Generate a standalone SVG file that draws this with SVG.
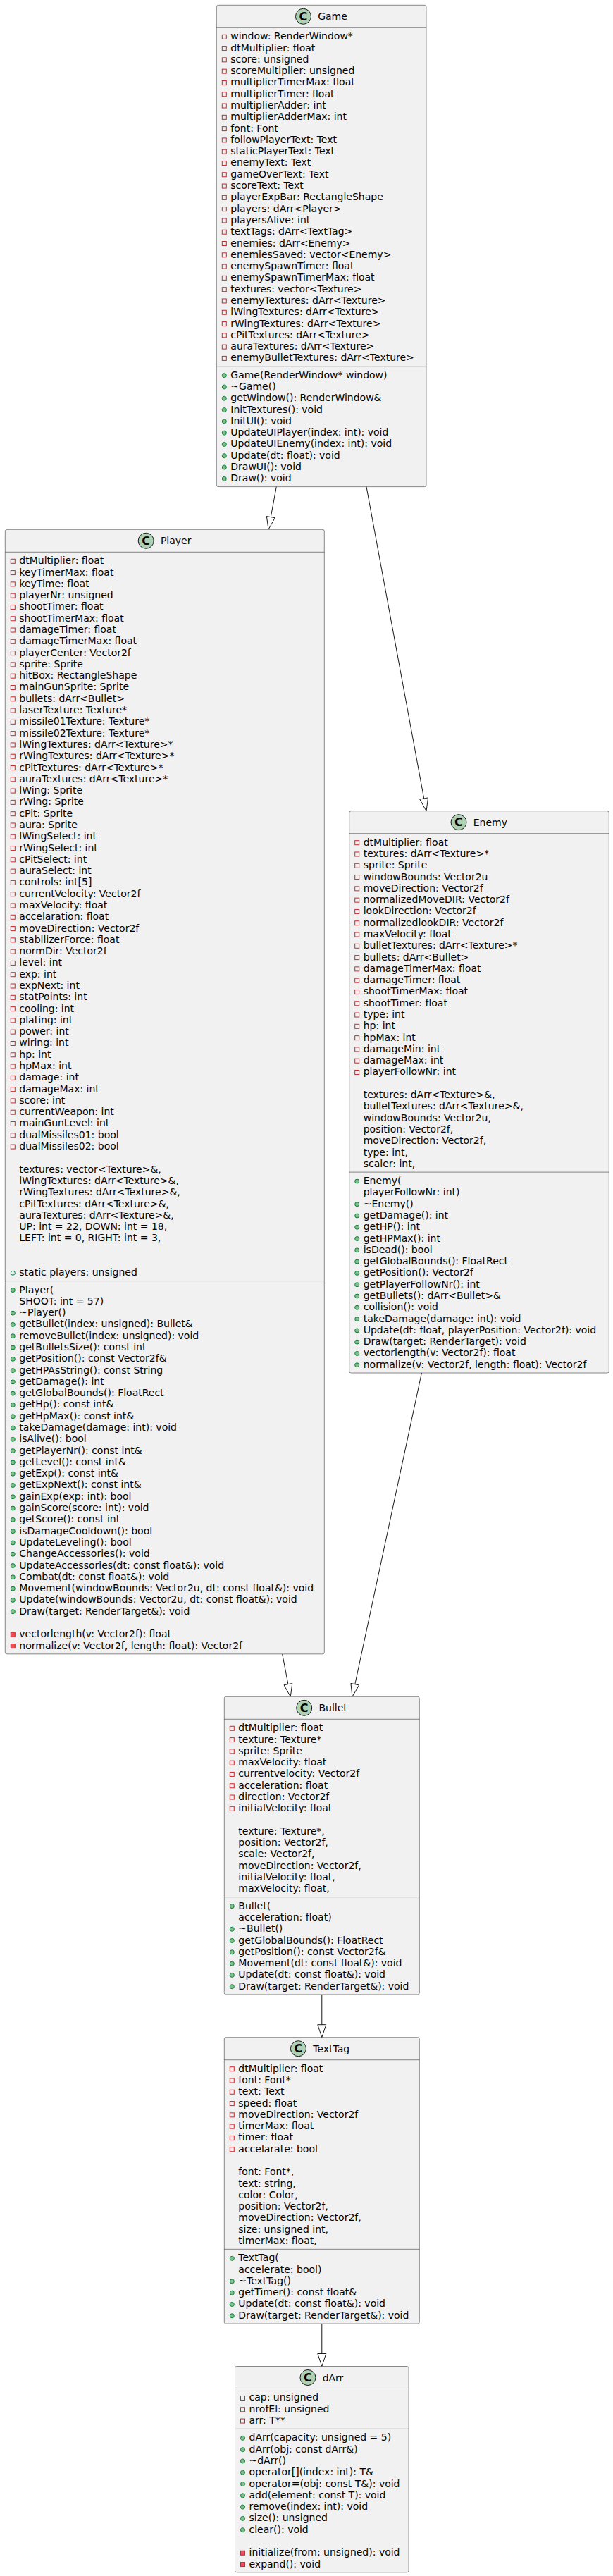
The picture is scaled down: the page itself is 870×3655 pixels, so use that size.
<svg xmlns="http://www.w3.org/2000/svg" xmlns:xlink="http://www.w3.org/1999/xlink" width="870" height="3655" viewBox="0 0 870 3655">
<style>
.box{fill:#F1F1F1;stroke:#181818;stroke-width:0.5}
.sep{stroke:#181818;stroke-width:0.5}
.spot{fill:#ADD1B2;stroke:#181818;stroke-width:1}
.spotc{font-family:"DejaVu Sans",sans-serif;font-size:16px;font-weight:bold;fill:#000000;text-anchor:middle}
.title{font-family:"DejaVu Sans",sans-serif;font-size:14px;fill:#000000}
.m{font-family:"DejaVu Sans",sans-serif;font-size:14px;fill:#000000}
.edge{stroke:#181818;stroke-width:1;fill:none}
.head{fill:none;stroke:#181818;stroke-width:1}
</style>
<defs>
<rect id="fpriv" x="8" y="-3" width="6" height="6" fill="none" stroke="#C82930" stroke-width="1"/>
<rect id="mpriv" x="8" y="-3" width="6" height="6" fill="#F24D5C" stroke="#C82930" stroke-width="1"/>
<circle id="mpub" cx="11" cy="0" r="3" fill="#84BE84" stroke="#038048" stroke-width="1"/>
<circle id="fpub" cx="11" cy="0" r="3" fill="none" stroke="#038048" stroke-width="1"/>
</defs>
<rect width="870" height="3655" fill="#FFFFFF"/>

<g id="connectors">
<line class="edge" x1="392.3" y1="690.6" x2="384.3" y2="733.6"/>
<polygon class="head" points="381,751.3 390.2,734.7 378.4,732.5"/>
<line class="edge" x1="520" y1="690.6" x2="601.7" y2="1133"/>
<polygon class="head" points="605,1150.7 607.6,1131.9 595.8,1134.1"/>
<line class="edge" x1="400.7" y1="2346.85" x2="408.9" y2="2389.6"/>
<polygon class="head" points="412.3,2407.3 414.8,2388.5 403,2390.75"/>
<line class="edge" x1="598.4" y1="1948.04" x2="503.8" y2="2389.7"/>
<polygon class="head" points="500,2407.3 509.6,2391 497.9,2388.4"/>
<line class="edge" x1="456.8" y1="2829.97" x2="456.8" y2="2872.7"/>
<polygon class="head" points="456.8,2890.7 450.8,2872.7 462.8,2872.7"/>
<line class="edge" x1="456.8" y1="3297.08" x2="456.8" y2="3339.5"/>
<polygon class="head" points="456.8,3357.5 450.8,3339.5 462.8,3339.5"/>
</g>

<g id="Game" transform="translate(307.3,7.3)">
<rect class="box" width="297.7" height="683.31" rx="2.5"/>
<circle class="spot" cx="123.2" cy="16" r="11"/>
<text class="spotc" x="123.2" y="21.8">C</text>
<text class="title" x="143.9" y="21">Game</text>
<line class="sep" x1="0" y1="32" x2="297.7" y2="32"/>
<line class="sep" x1="0" y1="512.41" x2="297.7" y2="512.41"/>
<g transform="translate(0,32)">
<use href="#fpriv" y="12.99"/><use href="#fpriv" y="29.28"/><use href="#fpriv" y="45.57"/><use href="#fpriv" y="61.86"/><use href="#fpriv" y="78.15"/><use href="#fpriv" y="94.44"/><use href="#fpriv" y="110.73"/><use href="#fpriv" y="127.02"/><use href="#fpriv" y="143.31"/><use href="#fpriv" y="159.60"/><use href="#fpriv" y="175.89"/><use href="#fpriv" y="192.18"/><use href="#fpriv" y="208.47"/><use href="#fpriv" y="224.76"/><use href="#fpriv" y="241.05"/><use href="#fpriv" y="257.34"/><use href="#fpriv" y="273.63"/><use href="#fpriv" y="289.92"/><use href="#fpriv" y="306.21"/><use href="#fpriv" y="322.50"/><use href="#fpriv" y="338.79"/><use href="#fpriv" y="355.08"/><use href="#fpriv" y="371.37"/><use href="#fpriv" y="387.66"/><use href="#fpriv" y="403.95"/><use href="#fpriv" y="420.24"/><use href="#fpriv" y="436.53"/><use href="#fpriv" y="452.82"/><use href="#fpriv" y="469.11"/>
<text class="m"><tspan x="20" y="16.99">window: RenderWindow*</tspan><tspan x="20" dy="16.29">dtMultiplier: float</tspan><tspan x="20" dy="16.29">score: unsigned</tspan><tspan x="20" dy="16.29">scoreMultiplier: unsigned</tspan><tspan x="20" dy="16.29">multiplierTimerMax: float</tspan><tspan x="20" dy="16.29">multiplierTimer: float</tspan><tspan x="20" dy="16.29">multiplierAdder: int</tspan><tspan x="20" dy="16.29">multiplierAdderMax: int</tspan><tspan x="20" dy="16.29">font: Font</tspan><tspan x="20" dy="16.29">followPlayerText: Text</tspan><tspan x="20" dy="16.29">staticPlayerText: Text</tspan><tspan x="20" dy="16.29">enemyText: Text</tspan><tspan x="20" dy="16.29">gameOverText: Text</tspan><tspan x="20" dy="16.29">scoreText: Text</tspan><tspan x="20" dy="16.29">playerExpBar: RectangleShape</tspan><tspan x="20" dy="16.29">players: dArr&lt;Player&gt;</tspan><tspan x="20" dy="16.29">playersAlive: int</tspan><tspan x="20" dy="16.29">textTags: dArr&lt;TextTag&gt;</tspan><tspan x="20" dy="16.29">enemies: dArr&lt;Enemy&gt;</tspan><tspan x="20" dy="16.29">enemiesSaved: vector&lt;Enemy&gt;</tspan><tspan x="20" dy="16.29">enemySpawnTimer: float</tspan><tspan x="20" dy="16.29">enemySpawnTimerMax: float</tspan><tspan x="20" dy="16.29">textures: vector&lt;Texture&gt;</tspan><tspan x="20" dy="16.29">enemyTextures: dArr&lt;Texture&gt;</tspan><tspan x="20" dy="16.29">lWingTextures: dArr&lt;Texture&gt;</tspan><tspan x="20" dy="16.29">rWingTextures: dArr&lt;Texture&gt;</tspan><tspan x="20" dy="16.29">cPitTextures: dArr&lt;Texture&gt;</tspan><tspan x="20" dy="16.29">auraTextures: dArr&lt;Texture&gt;</tspan><tspan x="20" dy="16.29">enemyBulletTextures: dArr&lt;Texture&gt;</tspan></text>
</g>
<g transform="translate(0,512.41)">
<use href="#mpub" y="12.99"/><use href="#mpub" y="29.28"/><use href="#mpub" y="45.57"/><use href="#mpub" y="61.86"/><use href="#mpub" y="78.15"/><use href="#mpub" y="94.44"/><use href="#mpub" y="110.73"/><use href="#mpub" y="127.02"/><use href="#mpub" y="143.31"/><use href="#mpub" y="159.60"/>
<text class="m"><tspan x="20" y="16.99">Game(RenderWindow* window)</tspan><tspan x="20" dy="16.29">~Game()</tspan><tspan x="20" dy="16.29">getWindow(): RenderWindow&amp;</tspan><tspan x="20" dy="16.29">InitTextures(): void</tspan><tspan x="20" dy="16.29">InitUI(): void</tspan><tspan x="20" dy="16.29">UpdateUIPlayer(index: int): void</tspan><tspan x="20" dy="16.29">UpdateUIEnemy(index: int): void</tspan><tspan x="20" dy="16.29">Update(dt: float): void</tspan><tspan x="20" dy="16.29">DrawUI(): void</tspan><tspan x="20" dy="16.29">Draw(): void</tspan></text>
</g>
</g>

<g id="Player" transform="translate(7.3,751.3)">
<rect class="box" width="453" height="1595.55" rx="2.5"/>
<circle class="spot" cx="199.9" cy="16" r="11"/>
<text class="spotc" x="199.9" y="21.8">C</text>
<text class="title" x="220.6" y="21">Player</text>
<line class="sep" x1="0" y1="32" x2="453" y2="32"/>
<line class="sep" x1="0" y1="1066.27" x2="453" y2="1066.27"/>
<g transform="translate(0,32)">
<use href="#fpriv" y="12.99"/><use href="#fpriv" y="29.28"/><use href="#fpriv" y="45.57"/><use href="#fpriv" y="61.86"/><use href="#fpriv" y="78.15"/><use href="#fpriv" y="94.44"/><use href="#fpriv" y="110.73"/><use href="#fpriv" y="127.02"/><use href="#fpriv" y="143.31"/><use href="#fpriv" y="159.60"/><use href="#fpriv" y="175.89"/><use href="#fpriv" y="192.18"/><use href="#fpriv" y="208.47"/><use href="#fpriv" y="224.76"/><use href="#fpriv" y="241.05"/><use href="#fpriv" y="257.34"/><use href="#fpriv" y="273.63"/><use href="#fpriv" y="289.92"/><use href="#fpriv" y="306.21"/><use href="#fpriv" y="322.50"/><use href="#fpriv" y="338.79"/><use href="#fpriv" y="355.08"/><use href="#fpriv" y="371.37"/><use href="#fpriv" y="387.66"/><use href="#fpriv" y="403.95"/><use href="#fpriv" y="420.24"/><use href="#fpriv" y="436.53"/><use href="#fpriv" y="452.82"/><use href="#fpriv" y="469.11"/><use href="#fpriv" y="485.40"/><use href="#fpriv" y="501.69"/><use href="#fpriv" y="517.98"/><use href="#fpriv" y="534.27"/><use href="#fpriv" y="550.56"/><use href="#fpriv" y="566.85"/><use href="#fpriv" y="583.14"/><use href="#fpriv" y="599.43"/><use href="#fpriv" y="615.72"/><use href="#fpriv" y="632.01"/><use href="#fpriv" y="648.30"/><use href="#fpriv" y="664.59"/><use href="#fpriv" y="680.88"/><use href="#fpriv" y="697.17"/><use href="#fpriv" y="713.46"/><use href="#fpriv" y="729.75"/><use href="#fpriv" y="746.04"/><use href="#fpriv" y="762.33"/><use href="#fpriv" y="778.62"/><use href="#fpriv" y="794.91"/><use href="#fpriv" y="811.20"/><use href="#fpriv" y="827.49"/><use href="#fpriv" y="843.78"/>
<use href="#fpub" y="1022.97"/>
<text class="m"><tspan x="20" y="16.99">dtMultiplier: float</tspan><tspan x="20" dy="16.29">keyTimerMax: float</tspan><tspan x="20" dy="16.29">keyTime: float</tspan><tspan x="20" dy="16.29">playerNr: unsigned</tspan><tspan x="20" dy="16.29">shootTimer: float</tspan><tspan x="20" dy="16.29">shootTimerMax: float</tspan><tspan x="20" dy="16.29">damageTimer: float</tspan><tspan x="20" dy="16.29">damageTimerMax: float</tspan><tspan x="20" dy="16.29">playerCenter: Vector2f</tspan><tspan x="20" dy="16.29">sprite: Sprite</tspan><tspan x="20" dy="16.29">hitBox: RectangleShape</tspan><tspan x="20" dy="16.29">mainGunSprite: Sprite</tspan><tspan x="20" dy="16.29">bullets: dArr&lt;Bullet&gt;</tspan><tspan x="20" dy="16.29">laserTexture: Texture*</tspan><tspan x="20" dy="16.29">missile01Texture: Texture*</tspan><tspan x="20" dy="16.29">missile02Texture: Texture*</tspan><tspan x="20" dy="16.29">lWingTextures: dArr&lt;Texture&gt;*</tspan><tspan x="20" dy="16.29">rWingTextures: dArr&lt;Texture&gt;*</tspan><tspan x="20" dy="16.29">cPitTextures: dArr&lt;Texture&gt;*</tspan><tspan x="20" dy="16.29">auraTextures: dArr&lt;Texture&gt;*</tspan><tspan x="20" dy="16.29">lWing: Sprite</tspan><tspan x="20" dy="16.29">rWing: Sprite</tspan><tspan x="20" dy="16.29">cPit: Sprite</tspan><tspan x="20" dy="16.29">aura: Sprite</tspan><tspan x="20" dy="16.29">lWingSelect: int</tspan><tspan x="20" dy="16.29">rWingSelect: int</tspan><tspan x="20" dy="16.29">cPitSelect: int</tspan><tspan x="20" dy="16.29">auraSelect: int</tspan><tspan x="20" dy="16.29">controls: int[5]</tspan><tspan x="20" dy="16.29">currentVelocity: Vector2f</tspan><tspan x="20" dy="16.29">maxVelocity: float</tspan><tspan x="20" dy="16.29">accelaration: float</tspan><tspan x="20" dy="16.29">moveDirection: Vector2f</tspan><tspan x="20" dy="16.29">stabilizerForce: float</tspan><tspan x="20" dy="16.29">normDir: Vector2f</tspan><tspan x="20" dy="16.29">level: int</tspan><tspan x="20" dy="16.29">exp: int</tspan><tspan x="20" dy="16.29">expNext: int</tspan><tspan x="20" dy="16.29">statPoints: int</tspan><tspan x="20" dy="16.29">cooling: int</tspan><tspan x="20" dy="16.29">plating: int</tspan><tspan x="20" dy="16.29">power: int</tspan><tspan x="20" dy="16.29">wiring: int</tspan><tspan x="20" dy="16.29">hp: int</tspan><tspan x="20" dy="16.29">hpMax: int</tspan><tspan x="20" dy="16.29">damage: int</tspan><tspan x="20" dy="16.29">damageMax: int</tspan><tspan x="20" dy="16.29">score: int</tspan><tspan x="20" dy="16.29">currentWeapon: int</tspan><tspan x="20" dy="16.29">mainGunLevel: int</tspan><tspan x="20" dy="16.29">dualMissiles01: bool</tspan><tspan x="20" dy="16.29">dualMissiles02: bool</tspan><tspan x="20" dy="32.58">textures: vector&lt;Texture&gt;&amp;,</tspan><tspan x="20" dy="16.29">lWingTextures: dArr&lt;Texture&gt;&amp;,</tspan><tspan x="20" dy="16.29">rWingTextures: dArr&lt;Texture&gt;&amp;,</tspan><tspan x="20" dy="16.29">cPitTextures: dArr&lt;Texture&gt;&amp;,</tspan><tspan x="20" dy="16.29">auraTextures: dArr&lt;Texture&gt;&amp;,</tspan><tspan x="20" dy="16.29">UP: int = 22, DOWN: int = 18,</tspan><tspan x="20" dy="16.29">LEFT: int = 0, RIGHT: int = 3,</tspan><tspan x="20" dy="48.87">static players: unsigned</tspan></text>
</g>
<g transform="translate(0,1066.27)">
<use href="#mpub" y="12.99"/><use href="#mpub" y="45.57"/><use href="#mpub" y="61.86"/><use href="#mpub" y="78.15"/><use href="#mpub" y="94.44"/><use href="#mpub" y="110.73"/><use href="#mpub" y="127.02"/><use href="#mpub" y="143.31"/><use href="#mpub" y="159.60"/><use href="#mpub" y="175.89"/><use href="#mpub" y="192.18"/><use href="#mpub" y="208.47"/><use href="#mpub" y="224.76"/><use href="#mpub" y="241.05"/><use href="#mpub" y="257.34"/><use href="#mpub" y="273.63"/><use href="#mpub" y="289.92"/><use href="#mpub" y="306.21"/><use href="#mpub" y="322.50"/><use href="#mpub" y="338.79"/><use href="#mpub" y="355.08"/><use href="#mpub" y="371.37"/><use href="#mpub" y="387.66"/><use href="#mpub" y="403.95"/><use href="#mpub" y="420.24"/><use href="#mpub" y="436.53"/><use href="#mpub" y="452.82"/><use href="#mpub" y="469.11"/>
<use href="#mpriv" y="501.69"/><use href="#mpriv" y="517.98"/>
<text class="m"><tspan x="20" y="16.99">Player(</tspan><tspan x="20" dy="16.29">SHOOT: int = 57)</tspan><tspan x="20" dy="16.29">~Player()</tspan><tspan x="20" dy="16.29">getBullet(index: unsigned): Bullet&amp;</tspan><tspan x="20" dy="16.29">removeBullet(index: unsigned): void</tspan><tspan x="20" dy="16.29">getBulletsSize(): const int</tspan><tspan x="20" dy="16.29">getPosition(): const Vector2f&amp;</tspan><tspan x="20" dy="16.29">getHPAsString(): const String</tspan><tspan x="20" dy="16.29">getDamage(): int</tspan><tspan x="20" dy="16.29">getGlobalBounds(): FloatRect</tspan><tspan x="20" dy="16.29">getHp(): const int&amp;</tspan><tspan x="20" dy="16.29">getHpMax(): const int&amp;</tspan><tspan x="20" dy="16.29">takeDamage(damage: int): void</tspan><tspan x="20" dy="16.29">isAlive(): bool</tspan><tspan x="20" dy="16.29">getPlayerNr(): const int&amp;</tspan><tspan x="20" dy="16.29">getLevel(): const int&amp;</tspan><tspan x="20" dy="16.29">getExp(): const int&amp;</tspan><tspan x="20" dy="16.29">getExpNext(): const int&amp;</tspan><tspan x="20" dy="16.29">gainExp(exp: int): bool</tspan><tspan x="20" dy="16.29">gainScore(score: int): void</tspan><tspan x="20" dy="16.29">getScore(): const int</tspan><tspan x="20" dy="16.29">isDamageCooldown(): bool</tspan><tspan x="20" dy="16.29">UpdateLeveling(): bool</tspan><tspan x="20" dy="16.29">ChangeAccessories(): void</tspan><tspan x="20" dy="16.29">UpdateAccessories(dt: const float&amp;): void</tspan><tspan x="20" dy="16.29">Combat(dt: const float&amp;): void</tspan><tspan x="20" dy="16.29">Movement(windowBounds: Vector2u, dt: const float&amp;): void</tspan><tspan x="20" dy="16.29">Update(windowBounds: Vector2u, dt: const float&amp;): void</tspan><tspan x="20" dy="16.29">Draw(target: RenderTarget&amp;): void</tspan><tspan x="20" dy="32.58">vectorlength(v: Vector2f): float</tspan><tspan x="20" dy="16.29">normalize(v: Vector2f, length: float): Vector2f</tspan></text>
</g>
</g>

<g id="Enemy" transform="translate(495.7,1150.7)">
<rect class="box" width="368.6" height="797.34" rx="2.5"/>
<circle class="spot" cx="155.3" cy="16" r="11"/>
<text class="spotc" x="155.3" y="21.8">C</text>
<text class="title" x="176" y="21">Enemy</text>
<line class="sep" x1="0" y1="32" x2="368.6" y2="32"/>
<line class="sep" x1="0" y1="512.41" x2="368.6" y2="512.41"/>
<g transform="translate(0,32)">
<use href="#fpriv" y="12.99"/><use href="#fpriv" y="29.28"/><use href="#fpriv" y="45.57"/><use href="#fpriv" y="61.86"/><use href="#fpriv" y="78.15"/><use href="#fpriv" y="94.44"/><use href="#fpriv" y="110.73"/><use href="#fpriv" y="127.02"/><use href="#fpriv" y="143.31"/><use href="#fpriv" y="159.60"/><use href="#fpriv" y="175.89"/><use href="#fpriv" y="192.18"/><use href="#fpriv" y="208.47"/><use href="#fpriv" y="224.76"/><use href="#fpriv" y="241.05"/><use href="#fpriv" y="257.34"/><use href="#fpriv" y="273.63"/><use href="#fpriv" y="289.92"/><use href="#fpriv" y="306.21"/><use href="#fpriv" y="322.50"/><use href="#fpriv" y="338.79"/>
<text class="m"><tspan x="20" y="16.99">dtMultiplier: float</tspan><tspan x="20" dy="16.29">textures: dArr&lt;Texture&gt;*</tspan><tspan x="20" dy="16.29">sprite: Sprite</tspan><tspan x="20" dy="16.29">windowBounds: Vector2u</tspan><tspan x="20" dy="16.29">moveDirection: Vector2f</tspan><tspan x="20" dy="16.29">normalizedMoveDIR: Vector2f</tspan><tspan x="20" dy="16.29">lookDirection: Vector2f</tspan><tspan x="20" dy="16.29">normalizedlookDIR: Vector2f</tspan><tspan x="20" dy="16.29">maxVelocity: float</tspan><tspan x="20" dy="16.29">bulletTextures: dArr&lt;Texture&gt;*</tspan><tspan x="20" dy="16.29">bullets: dArr&lt;Bullet&gt;</tspan><tspan x="20" dy="16.29">damageTimerMax: float</tspan><tspan x="20" dy="16.29">damageTimer: float</tspan><tspan x="20" dy="16.29">shootTimerMax: float</tspan><tspan x="20" dy="16.29">shootTimer: float</tspan><tspan x="20" dy="16.29">type: int</tspan><tspan x="20" dy="16.29">hp: int</tspan><tspan x="20" dy="16.29">hpMax: int</tspan><tspan x="20" dy="16.29">damageMin: int</tspan><tspan x="20" dy="16.29">damageMax: int</tspan><tspan x="20" dy="16.29">playerFollowNr: int</tspan><tspan x="20" dy="32.58">textures: dArr&lt;Texture&gt;&amp;,</tspan><tspan x="20" dy="16.29">bulletTextures: dArr&lt;Texture&gt;&amp;,</tspan><tspan x="20" dy="16.29">windowBounds: Vector2u,</tspan><tspan x="20" dy="16.29">position: Vector2f,</tspan><tspan x="20" dy="16.29">moveDirection: Vector2f,</tspan><tspan x="20" dy="16.29">type: int,</tspan><tspan x="20" dy="16.29">scaler: int,</tspan></text>
</g>
<g transform="translate(0,512.41)">
<use href="#mpub" y="12.99"/><use href="#mpub" y="45.57"/><use href="#mpub" y="61.86"/><use href="#mpub" y="78.15"/><use href="#mpub" y="94.44"/><use href="#mpub" y="110.73"/><use href="#mpub" y="127.02"/><use href="#mpub" y="143.31"/><use href="#mpub" y="159.60"/><use href="#mpub" y="175.89"/><use href="#mpub" y="192.18"/><use href="#mpub" y="208.47"/><use href="#mpub" y="224.76"/><use href="#mpub" y="241.05"/><use href="#mpub" y="257.34"/><use href="#mpub" y="273.63"/>
<text class="m"><tspan x="20" y="16.99">Enemy(</tspan><tspan x="20" dy="16.29">playerFollowNr: int)</tspan><tspan x="20" dy="16.29">~Enemy()</tspan><tspan x="20" dy="16.29">getDamage(): int</tspan><tspan x="20" dy="16.29">getHP(): int</tspan><tspan x="20" dy="16.29">getHPMax(): int</tspan><tspan x="20" dy="16.29">isDead(): bool</tspan><tspan x="20" dy="16.29">getGlobalBounds(): FloatRect</tspan><tspan x="20" dy="16.29">getPosition(): Vector2f</tspan><tspan x="20" dy="16.29">getPlayerFollowNr(): int</tspan><tspan x="20" dy="16.29">getBullets(): dArr&lt;Bullet&gt;&amp;</tspan><tspan x="20" dy="16.29">collision(): void</tspan><tspan x="20" dy="16.29">takeDamage(damage: int): void</tspan><tspan x="20" dy="16.29">Update(dt: float, playerPosition: Vector2f): void</tspan><tspan x="20" dy="16.29">Draw(target: RenderTarget): void</tspan><tspan x="20" dy="16.29">vectorlength(v: Vector2f): float</tspan><tspan x="20" dy="16.29">normalize(v: Vector2f, length: float): Vector2f</tspan></text>
</g>
</g>

<g id="Bullet" transform="translate(318.3,2407.3)">
<rect class="box" width="277" height="422.67" rx="2.5"/>
<circle class="spot" cx="113.45" cy="16" r="11"/>
<text class="spotc" x="113.45" y="21.8">C</text>
<text class="title" x="134.15" y="21">Bullet</text>
<line class="sep" x1="0" y1="32" x2="277" y2="32"/>
<line class="sep" x1="0" y1="284.35" x2="277" y2="284.35"/>
<g transform="translate(0,32)">
<use href="#fpriv" y="12.99"/><use href="#fpriv" y="29.28"/><use href="#fpriv" y="45.57"/><use href="#fpriv" y="61.86"/><use href="#fpriv" y="78.15"/><use href="#fpriv" y="94.44"/><use href="#fpriv" y="110.73"/><use href="#fpriv" y="127.02"/>
<text class="m"><tspan x="20" y="16.99">dtMultiplier: float</tspan><tspan x="20" dy="16.29">texture: Texture*</tspan><tspan x="20" dy="16.29">sprite: Sprite</tspan><tspan x="20" dy="16.29">maxVelocity: float</tspan><tspan x="20" dy="16.29">currentvelocity: Vector2f</tspan><tspan x="20" dy="16.29">acceleration: float</tspan><tspan x="20" dy="16.29">direction: Vector2f</tspan><tspan x="20" dy="16.29">initialVelocity: float</tspan><tspan x="20" dy="32.58">texture: Texture*,</tspan><tspan x="20" dy="16.29">position: Vector2f,</tspan><tspan x="20" dy="16.29">scale: Vector2f,</tspan><tspan x="20" dy="16.29">moveDirection: Vector2f,</tspan><tspan x="20" dy="16.29">initialVelocity: float,</tspan><tspan x="20" dy="16.29">maxVelocity: float,</tspan></text>
</g>
<g transform="translate(0,284.35)">
<use href="#mpub" y="12.99"/><use href="#mpub" y="45.57"/><use href="#mpub" y="61.86"/><use href="#mpub" y="78.15"/><use href="#mpub" y="94.44"/><use href="#mpub" y="110.73"/><use href="#mpub" y="127.02"/>
<text class="m"><tspan x="20" y="16.99">Bullet(</tspan><tspan x="20" dy="16.29">acceleration: float)</tspan><tspan x="20" dy="16.29">~Bullet()</tspan><tspan x="20" dy="16.29">getGlobalBounds(): FloatRect</tspan><tspan x="20" dy="16.29">getPosition(): const Vector2f&amp;</tspan><tspan x="20" dy="16.29">Movement(dt: const float&amp;): void</tspan><tspan x="20" dy="16.29">Update(dt: const float&amp;): void</tspan><tspan x="20" dy="16.29">Draw(target: RenderTarget&amp;): void</tspan></text>
</g>
</g>

<g id="TextTag" transform="translate(318.3,2890.7)">
<rect class="box" width="277" height="406.38" rx="2.5"/>
<circle class="spot" cx="105.15" cy="16" r="11"/>
<text class="spotc" x="105.15" y="21.8">C</text>
<text class="title" x="125.85" y="21">TextTag</text>
<line class="sep" x1="0" y1="32" x2="277" y2="32"/>
<line class="sep" x1="0" y1="300.64" x2="277" y2="300.64"/>
<g transform="translate(0,32)">
<use href="#fpriv" y="12.99"/><use href="#fpriv" y="29.28"/><use href="#fpriv" y="45.57"/><use href="#fpriv" y="61.86"/><use href="#fpriv" y="78.15"/><use href="#fpriv" y="94.44"/><use href="#fpriv" y="110.73"/><use href="#fpriv" y="127.02"/>
<text class="m"><tspan x="20" y="16.99">dtMultiplier: float</tspan><tspan x="20" dy="16.29">font: Font*</tspan><tspan x="20" dy="16.29">text: Text</tspan><tspan x="20" dy="16.29">speed: float</tspan><tspan x="20" dy="16.29">moveDirection: Vector2f</tspan><tspan x="20" dy="16.29">timerMax: float</tspan><tspan x="20" dy="16.29">timer: float</tspan><tspan x="20" dy="16.29">accelarate: bool</tspan><tspan x="20" dy="32.58">font: Font*,</tspan><tspan x="20" dy="16.29">text: string,</tspan><tspan x="20" dy="16.29">color: Color,</tspan><tspan x="20" dy="16.29">position: Vector2f,</tspan><tspan x="20" dy="16.29">moveDirection: Vector2f,</tspan><tspan x="20" dy="16.29">size: unsigned int,</tspan><tspan x="20" dy="16.29">timerMax: float,</tspan></text>
</g>
<g transform="translate(0,300.64)">
<use href="#mpub" y="12.99"/><use href="#mpub" y="45.57"/><use href="#mpub" y="61.86"/><use href="#mpub" y="78.15"/><use href="#mpub" y="94.44"/>
<text class="m"><tspan x="20" y="16.99">TextTag(</tspan><tspan x="20" dy="16.29">accelerate: bool)</tspan><tspan x="20" dy="16.29">~TextTag()</tspan><tspan x="20" dy="16.29">getTimer(): const float&amp;</tspan><tspan x="20" dy="16.29">Update(dt: const float&amp;): void</tspan><tspan x="20" dy="16.29">Draw(target: RenderTarget&amp;): void</tspan></text>
</g>
</g>

<g id="dArr" transform="translate(333.5,3357.5)">
<rect class="box" width="246.6" height="292.35" rx="2.5"/>
<circle class="spot" cx="103.45" cy="16" r="11"/>
<text class="spotc" x="103.45" y="21.8">C</text>
<text class="title" x="124.15" y="21">dArr</text>
<line class="sep" x1="0" y1="32" x2="246.6" y2="32"/>
<line class="sep" x1="0" y1="88.87" x2="246.6" y2="88.87"/>
<g transform="translate(0,32)">
<use href="#fpriv" y="12.99"/><use href="#fpriv" y="29.28"/><use href="#fpriv" y="45.57"/>
<text class="m"><tspan x="20" y="16.99">cap: unsigned</tspan><tspan x="20" dy="16.29">nrofEl: unsigned</tspan><tspan x="20" dy="16.29">arr: T**</tspan></text>
</g>
<g transform="translate(0,88.87)">
<use href="#mpub" y="12.99"/><use href="#mpub" y="29.28"/><use href="#mpub" y="45.57"/><use href="#mpub" y="61.86"/><use href="#mpub" y="78.15"/><use href="#mpub" y="94.44"/><use href="#mpub" y="110.73"/><use href="#mpub" y="127.02"/><use href="#mpub" y="143.31"/>
<use href="#mpriv" y="175.89"/><use href="#mpriv" y="192.18"/>
<text class="m"><tspan x="20" y="16.99">dArr(capacity: unsigned = 5)</tspan><tspan x="20" dy="16.29">dArr(obj: const dArr&amp;)</tspan><tspan x="20" dy="16.29">~dArr()</tspan><tspan x="20" dy="16.29">operator[](index: int): T&amp;</tspan><tspan x="20" dy="16.29">operator=(obj: const T&amp;): void</tspan><tspan x="20" dy="16.29">add(element: const T): void</tspan><tspan x="20" dy="16.29">remove(index: int): void</tspan><tspan x="20" dy="16.29">size(): unsigned</tspan><tspan x="20" dy="16.29">clear(): void</tspan><tspan x="20" dy="32.58">initialize(from: unsigned): void</tspan><tspan x="20" dy="16.29">expand(): void</tspan></text>
</g>
</g>
</svg>
